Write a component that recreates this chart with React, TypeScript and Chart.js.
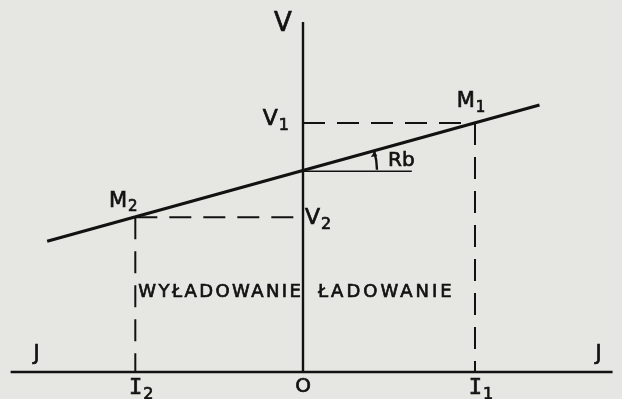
import React, { useEffect, useRef } from "react";
import { Chart, registerables } from "chart.js";

Chart.register(...registerables);

// Current (I) and voltage (V) values of the battery characteristic, in diagram units
const I_AXIS_RANGE = [-6.8, 7.2];
const V_AXIS_TOP = 8.14;
const LINE_I = [-5.95, 5.5];
const LINE_V = [3.04, 6.21];
const I1 = 4.0;
const I2 = -3.9;
const V1 = 5.79;
const V2 = 3.6;
const E0 = 4.67;
const RB_REF_END = 2.53;

const INK = "#121212";
const PAPER = "#e6e6e2";
const FONT = "'DejaVu Sans', sans-serif";
const MONO = "'DejaVu Sans Mono', monospace";

const seg = (x0: number, y0: number, x1: number, y1: number) => [
  { x: x0, y: y0 },
  { x: x1, y: y1 },
];

// lettering with a slightly heavier stroke than the regular face
function ink(ctx: CanvasRenderingContext2D, text: string, x: number, y: number) {
  ctx.fillText(text, x, y);
  ctx.lineWidth = 0.7;
  ctx.strokeText(text, x, y);
}

function drawSub(
  ctx: CanvasRenderingContext2D,
  main: string,
  sub: string,
  x: number,
  y: number,
  size: number,
  family = FONT,
  align: "left" | "center" | "right" = "center"
) {
  const mainFont = `${size}px ${family}`;
  const subFont = `${Math.round(size * 0.72)}px ${FONT}`;
  ctx.font = mainFont;
  const wMain = ctx.measureText(main).width;
  ctx.font = subFont;
  const wSub = ctx.measureText(sub).width;
  const total = wMain + wSub + 1;
  let left = x;
  if (align === "center") left = x - total / 2;
  if (align === "right") left = x - total;
  ctx.textAlign = "left";
  ctx.textBaseline = "middle";
  ctx.font = mainFont;
  ink(ctx, main, left, y);
  ctx.font = subFont;
  ink(ctx, sub, left + wMain + 1, y + size * 0.3);
}

const labelsPlugin = {
  id: "diagramLabels",
  beforeDraw(chart: any) {
    const { ctx, width, height } = chart;
    ctx.save();
    ctx.fillStyle = PAPER;
    ctx.fillRect(0, 0, width, height);
    ctx.restore();
  },
  afterDraw(chart: any) {
    const { ctx } = chart;
    const xs = chart.scales.x;
    const ys = chart.scales.y;
    const px = (v: number) => xs.getPixelForValue(v);
    const py = (v: number) => ys.getPixelForValue(v);
    ctx.save();
    ctx.fillStyle = INK;
    ctx.strokeStyle = INK;

    // axis names
    ctx.font = `26px ${FONT}`;
    ctx.textAlign = "center";
    ctx.textBaseline = "middle";
    ink(ctx, "V", px(0) - 20, py(V_AXIS_TOP) + 2);
    ctx.font = `21px ${FONT}`;
    ink(ctx, "J", px(I_AXIS_RANGE[0]) + 26, py(0) - 17);
    ink(ctx, "J", px(I_AXIS_RANGE[1]) - 14, py(0) - 17);

    // point and level labels
    drawSub(ctx, "V", "1", px(0) - 14, py(V1) - 4, 22, FONT, "right");
    drawSub(ctx, "V", "2", px(0) + 2, py(V2) + 1, 22, FONT, "left");
    drawSub(ctx, "M", "1", px(I1) - 4, py(V1) - 21, 21);
    drawSub(ctx, "M", "2", px(I2) - 12, py(V2) - 16, 21);

    // tick names on the current axis
    drawSub(ctx, "I", "2", px(I2) + 6, py(0) + 16, 22, MONO);
    drawSub(ctx, "I", "1", px(I1) + 6, py(0) + 16, 22, MONO);
    ctx.font = `20px ${FONT}`;
    ctx.textAlign = "center";
    ctx.textBaseline = "middle";
    ink(ctx, "O", px(0), py(0) + 15);

    // region names
    ctx.font = `18px ${FONT}`;
    ctx.textBaseline = "middle";
    ctx.textAlign = "left";
    (ctx as any).letterSpacing = "2.4px";
    ink(ctx, "WYŁADOWANIE", px(I2) + 3, py(0) - 80);
    (ctx as any).letterSpacing = "3px";
    ink(ctx, "ŁADOWANIE", px(0) + 15, py(0) - 80);
    (ctx as any).letterSpacing = "0px";

    // slope angle marker
    const ox = px(0);
    const oy = py(E0);
    const ang = Math.atan2(py(LINE_V[1]) - py(LINE_V[0]), px(LINE_I[1]) - px(LINE_I[0]));
    const r = 74;
    ctx.lineWidth = 2.4;
    ctx.beginPath();
    ctx.arc(ox, oy, r, ang, -0.02);
    ctx.stroke();
    const ax = ox + r * Math.cos(ang);
    const ay = oy + r * Math.sin(ang);
    ctx.beginPath();
    ctx.moveTo(ax, ay);
    ctx.lineTo(ax - 3.5, ay + 5.5);
    ctx.lineTo(ax + 3, ay + 4.5);
    ctx.closePath();
    ctx.fill();
    ctx.font = `20px ${FONT}`;
    ctx.textAlign = "left";
    ctx.textBaseline = "middle";
    ink(ctx, "Rb", ox + 85, oy - 10);

    ctx.restore();
  },
};

export default function App() {
  const ref = useRef<HTMLCanvasElement | null>(null);

  useEffect(() => {
    document.body.style.margin = "0";
    const canvas = ref.current;
    if (!canvas) return;
    const solid = (data: any[], w: number) => ({
      data,
      borderColor: INK,
      borderWidth: w,
      pointRadius: 0,
      fill: false,
      tension: 0,
    });
    const dashed = (data: any[]) => ({
      data,
      borderColor: INK,
      borderWidth: 2,
      borderDash: [22, 12],
      pointRadius: 0,
      fill: false,
      tension: 0,
    });
    const chart = new Chart(canvas, {
      type: "line",
      data: {
        datasets: [
          solid(seg(I_AXIS_RANGE[0], 0, I_AXIS_RANGE[1], 0), 2.4),
          solid(seg(0, 0, 0, V_AXIS_TOP), 2.4),
          solid(seg(LINE_I[0], LINE_V[0], LINE_I[1], LINE_V[1]), 3.2),
          dashed(seg(0, V1, I1, V1)),
          dashed(seg(I1, V1, I1, 0)),
          dashed(seg(I2, V2, 0, V2)),
          dashed(seg(I2, V2, I2, 0)),
          solid(seg(0, E0, RB_REF_END, E0), 1.6),
        ] as any,
      },
      options: {
        animation: false,
        responsive: false,
        maintainAspectRatio: false,
        layout: { padding: 0 },
        plugins: { legend: { display: false }, tooltip: { enabled: false } },
        scales: {
          x: { type: "linear", min: -7.047, max: 7.419, display: false },
          y: { type: "linear", min: -0.628, max: 8.651, display: false },
        },
      },
      plugins: [labelsPlugin],
    });
    return () => chart.destroy();
  }, []);

  return (
    <div style={{ width: 622, height: 399 }}>
      <canvas ref={ref} width={622} height={399} style={{ display: "block" }} />
    </div>
  );
}
